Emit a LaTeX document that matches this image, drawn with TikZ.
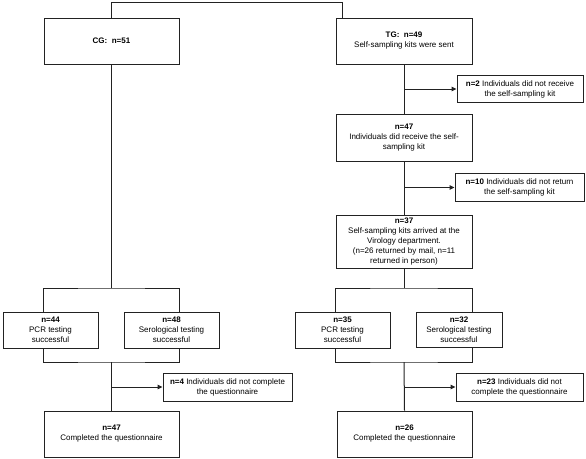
\documentclass[tikz,border=0pt]{standalone}
\usepackage{fontspec}
\setmainfont{Liberation Sans}
\usetikzlibrary{arrows.meta,calc}
\tikzset{
  box/.style={draw=linec, line width=1pt, align=center, inner sep=1pt,
    font=\fontsize{8pt}{10pt}\selectfont, fill=white},
  link/.style={draw=linec, line width=1pt},
  arr/.style={link, -{Triangle[length=5pt,width=4.5pt]}}
}
\definecolor{linec}{HTML}{222222}
\begin{document}
\begin{tikzpicture}[x=1pt,y=-1pt]
\useasboundingbox (0,0) rectangle (586,458);
% left branch
\node[box, minimum width=135pt, minimum height=46pt] (CG) at (111.5,41) {\textbf{CG:~~n=51}};
\node[box, minimum width=95pt, minimum height=36pt] (PCRL) at (50.5,330) {\textbf{n=44}\\PCR testing\\successful};
\node[box, minimum width=95pt, minimum height=36pt] (SEROL) at (171.5,330) {\textbf{n=48}\\Serological testing\\successful};
\node[box, minimum width=129pt, minimum height=28pt] (N4) at (227.5,387) {\textbf{n=4} Individuals did not complete\\the questionnaire};
\node[box, minimum width=135pt, minimum height=46pt] (COMPL) at (111.5,434) {\textbf{n=47}\\Completed the questionnaire};
% right branch
\node[box, minimum width=136pt, minimum height=46pt] (TG) at (404,41) {\textbf{TG:~~n=49}\\Self-sampling kits were sent};
\node[box, minimum width=126pt, minimum height=27pt] (N2) at (520,89) {\textbf{n=2} Individuals did not receive\\the self-sampling kit};
\node[box, minimum width=136pt, minimum height=47pt] (N47) at (404,137.5) {\textbf{n=47}\\Individuals did receive the self-\\sampling kit};
\node[box, minimum width=129pt, minimum height=28pt] (N10) at (519.5,187.5) {\textbf{n=10} Individuals did not return\\the self-sampling kit};
\node[box, minimum width=136pt, minimum height=53pt] (N37) at (404,241.5) {\textbf{n=37}\\Self-sampling kits arrived at the\\Virology department.\\(n=26 returned by mail, n=11\\returned in person)};
\node[box, minimum width=95pt, minimum height=36pt] (PCRR) at (342.5,330) {\textbf{n=35}\\PCR testing\\successful};
\node[box, minimum width=86pt, minimum height=35pt] (SEROR) at (459,329.5) {\textbf{n=32}\\Serological testing\\successful};
\node[box, minimum width=127pt, minimum height=28pt] (N23) at (519.5,387) {\textbf{n=23} Individuals did not\\complete the questionnaire};
\node[box, minimum width=135pt, minimum height=46pt] (COMPR) at (404.5,434) {\textbf{n=26}\\Completed the questionnaire};
% coordinates
\coordinate (splitL) at (111.5,288);
\coordinate (mergeL) at (111.5,362);
\coordinate (splitR) at (404,288);
\coordinate (mergeR) at (404,362);
% top connector
\draw[link] (CG.north) -- ++(0,-15) -| ([xshift=7pt]TG.north west);
% left connectors
\draw[link] (CG.south) -- (splitL);
\draw[link] (PCRL.north -| CG.west) |- (splitL) -| (SEROL.north -| CG.east);
\draw[link] (PCRL.south -| CG.west) |- (mergeL) -| (SEROL.south -| CG.east);
\draw[link] (mergeL) -- (COMPL.north);
\draw[arr] (COMPL.north |- N4.west) -- (N4.west);
% right connectors
\draw[link] (TG.south) -- (N47.north);
\draw[arr] (TG.south |- N2.west) -- (N2.west);
\draw[link] (N47.south) -- (N37.north);
\draw[arr] (N47.south |- N10.west) -- (N10.west);
\draw[link] (N37.south) -- (splitR);
\draw[link] (PCRR.north -| N37.west) |- (splitR) -| (SEROR.north -| N37.east);
\draw[link] (PCRR.south -| N37.west) |- (mergeR) -| (SEROR.south -| N37.east);
\draw[link] (mergeR) -- (COMPR.north);
\draw[arr] (COMPR.north |- N23.west) -- (N23.west);
\end{tikzpicture}
\end{document}
